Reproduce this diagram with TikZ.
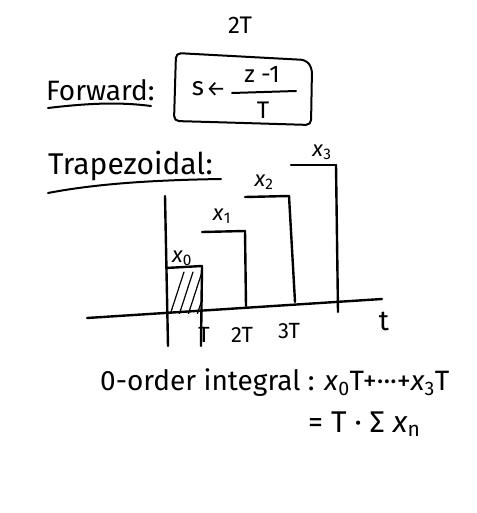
\documentclass[tikz,border=0pt]{standalone}
\usepackage{fontspec}
\setmainfont{Fira Sans}
\usetikzlibrary{calc}
\newcommand{\xv}[1]{\textit{x}\textsubscript{#1}}
\begin{document}
\begin{tikzpicture}[x=1pt,y=-1pt,
  ink/.style={line width=2.4pt,line cap=round,line join=round,black},
  thin ink/.style={line width=1.2pt,line cap=round,black},
  lbl/.style={inner sep=0pt,anchor=center,text=black}]
\useasboundingbox[fill=white] (0,0) rectangle (476,513);
% title
\node[lbl,font=\fontsize{24}{28}\selectfont] (title) at (240,25) {2T};
% Forward
\node[lbl,font=\fontsize{28}{32}\selectfont,anchor=south west] (fwd) at (46,101) {Forward:};
\draw[ink,line width=2pt] (48,108) .. controls (90,103) and (120,102) .. (151,106);
\draw[ink,line width=2pt,rounded corners=5pt] (176,53) -- (306,60) -- (312,68) -- (311,125) -- (210,122) -- (174,121) -- cycle;
\node[lbl,font=\fontsize{26}{30}\selectfont] (s) at (198,89) {s};
\node[lbl,font=\fontsize{22}{26}\selectfont] (arr) at (216,89) {←};
\node[lbl,font=\fontsize{24}{28}\selectfont] (num) at (262,74) {z -1};
\draw[ink,line width=2pt] (232,93) -- (296,91);
\node[lbl,font=\fontsize{24}{28}\selectfont] (den) at (263,110) {T};
% Trapezoidal
\node[lbl,font=\fontsize{30}{34}\selectfont,anchor=south west] (trap) at (48,181) {Trapezoidal:};
\draw[ink,line width=2pt] (48,193) .. controls (100,183) and (160,180) .. (221,179);
% axes
\coordinate (ax0) at (87,318);
\coordinate (ax1) at (382,299);
\draw[ink] (ax0) -- (ax1);
\node[lbl,font=\fontsize{28}{32}\selectfont] (t) at (384,321) {t};
% bars
\draw[ink] (165,196) -- (168,346);
\draw[ink] (166,268) -- (202,266);
\draw[ink] (202,266) -- (201,346);
\draw[ink] (202,232) -- (245,231);
\draw[ink] (245,231) -- (246,306);
\draw[ink] (245,197) -- (289,196);
\draw[ink] (289,196) -- (295,302);
\draw[ink] (291,165) -- (336,165);
\draw[ink] (336,165) -- (338,312);
% hatch
\begin{scope}
\clip (167,269) rectangle (201,313);
\foreach \i in {0,9,18,27,36}
  \draw[thin ink] (170+\i,315) -- (184+\i,272);
\end{scope}
% bar labels
\node[lbl,font=\fontsize{22}{26}\selectfont] (x0) at (182,258) {\xv{0}};
\node[lbl,font=\fontsize{22}{26}\selectfont] (x1) at (222,216) {\xv{1}};
\node[lbl,font=\fontsize{22}{26}\selectfont] (x2) at (264,182) {\xv{2}};
\node[lbl,font=\fontsize{22}{26}\selectfont] (x3) at (322,152) {\xv{3}};
% tick labels
\node[lbl,font=\fontsize{22}{26}\selectfont] (tT) at (204,335) {T};
\node[lbl,font=\fontsize{22}{26}\selectfont] (t2T) at (242,335) {2T};
\node[lbl,font=\fontsize{22}{26}\selectfont] (t3T) at (289,331) {3T};
% integral
\node[lbl,font=\fontsize{28}{32}\selectfont,anchor=west] (int) at (100,383) {0-order integral : \xv{0}T+···+\xv{3}T};
\node[lbl,font=\fontsize{30}{34}\selectfont,anchor=west] (sum) at (308,424) {= T · Σ \xv{n}};
\end{tikzpicture}
\end{document}
